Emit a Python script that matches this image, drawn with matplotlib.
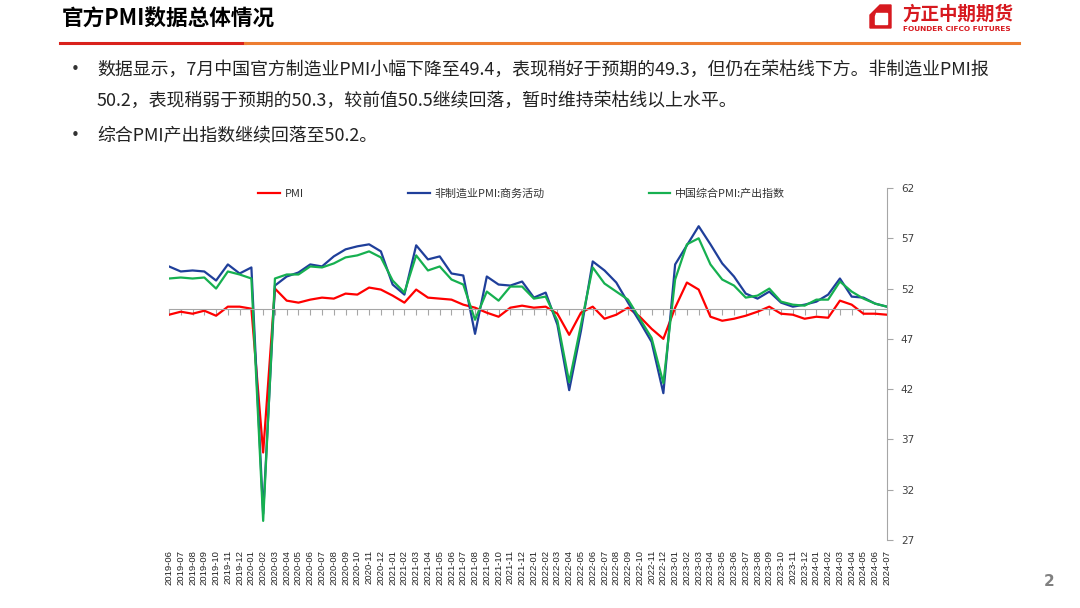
import matplotlib
matplotlib.use("Agg")
import matplotlib.pyplot as plt
from matplotlib.patches import Polygon
from matplotlib.lines import Line2D
import numpy as np

months = []
for y in range(2019, 2025):
    for m in range(1, 13):
        s = "%d-%02d" % (y, m)
        if "2019-06" <= s <= "2024-07":
            months.append(s)

pmi = [49.4, 49.7, 49.5, 49.8, 49.3, 50.2, 50.2,
       50.0, 35.7, 52.0, 50.8, 50.6, 50.9, 51.1, 51.0, 51.5, 51.4, 52.1, 51.9,
       51.3, 50.6, 51.9, 51.1, 51.0, 50.9, 50.4, 50.1, 49.6, 49.2, 50.1, 50.3,
       50.1, 50.2, 49.5, 47.4, 49.6, 50.2, 49.0, 49.4, 50.1, 49.2, 48.0, 47.0,
       50.1, 52.6, 51.9, 49.2, 48.8, 49.0, 49.3, 49.7, 50.2, 49.5, 49.4, 49.0,
       49.2, 49.1, 50.8, 50.4, 49.5, 49.5, 49.4]
non_mfg = [54.2, 53.7, 53.8, 53.7, 52.8, 54.4, 53.5,
           54.1, 29.6, 52.3, 53.2, 53.6, 54.4, 54.2, 55.2, 55.9, 56.2, 56.4, 55.7,
           52.4, 51.4, 56.3, 54.9, 55.2, 53.5, 53.3, 47.5, 53.2, 52.4, 52.3, 52.7,
           51.1, 51.6, 48.4, 41.9, 47.8, 54.7, 53.8, 52.6, 50.6, 48.7, 46.7, 41.6,
           54.4, 56.3, 58.2, 56.4, 54.5, 53.2, 51.5, 51.0, 51.7, 50.6, 50.2, 50.4,
           50.7, 51.4, 53.0, 51.2, 51.1, 50.5, 50.2]
composite = [53.0, 53.1, 53.0, 53.1, 52.0, 53.7, 53.4,
             53.0, 28.9, 53.0, 53.4, 53.4, 54.2, 54.1, 54.5, 55.1, 55.3, 55.7, 55.1,
             52.8, 51.6, 55.3, 53.8, 54.2, 52.9, 52.4, 48.9, 51.7, 50.8, 52.2, 52.2,
             51.0, 51.2, 48.8, 42.7, 48.4, 54.1, 52.5, 51.7, 50.9, 49.0, 47.1, 42.6,
             52.9, 56.4, 57.0, 54.4, 52.9, 52.3, 51.1, 51.3, 52.0, 50.7, 50.4, 50.3,
             50.9, 50.9, 52.7, 51.7, 51.0, 50.5, 50.2]
y_ticks = [27, 32, 37, 42, 47, 52, 57, 62]

cjk = ["Noto Sans CJK SC", "DejaVu Sans"]
W, H = 1080, 608
fig = plt.figure(figsize=(10.8, 6.08), dpi=100)

def fx(px):
    return px / W

def fy(py):
    return 1 - py / H

# header
fig.text(fx(62), fy(19), "官方PMI数据总体情况", family=cjk, fontsize=15.6,
         fontweight="bold", va="center", ha="left", color="#000000")
fig.add_artist(Line2D([fx(60), fx(245)], [fy(43), fy(43)], color="#D9221C", lw=2.2))
fig.add_artist(Line2D([fx(245), fx(1019)], [fy(43), fy(43)], color="#ED7D31", lw=2.2))

# logo
red = "#D7191F"
outer = [(873, 12), (880, 5), (891, 5), (891, 28), (870, 28), (870, 15)]
inner = [(876, 13), (887, 13), (887, 24), (875, 24), (875, 16)]
fig.add_artist(Polygon([(fx(a), fy(b)) for a, b in outer], closed=True,
                       color=red, transform=fig.transFigure))
fig.add_artist(Polygon([(fx(a), fy(b)) for a, b in inner], closed=True,
                       color="white", transform=fig.transFigure))
fig.text(fx(902), fy(14), "方正中期期货", family=cjk, fontsize=13.3,
         fontweight="bold", color=red, va="center", ha="left")
fig.text(fx(903), fy(29), "FOUNDER CIFCO FUTURES", family="DejaVu Sans",
         fontsize=5.3, fontweight="bold", color=red, va="center", ha="left")

# bullets
bullets = [
    (70, "数据显示，7月中国官方制造业PMI小幅下降至49.4，表现稍好于预期的49.3，但仍在荣枯线下方。非制造业PMI报", True),
    (101, "50.2，表现稍弱于预期的50.3，较前值50.5继续回落，暂时维持荣枯线以上水平。", False),
    (136, "综合PMI产出指数继续回落至50.2。", True),
]
for yy, txt, dot in bullets:
    if dot:
        fig.text(fx(75), fy(yy), "•", family="DejaVu Sans", fontsize=11,
                 va="center", ha="center", color="#333333")
    fig.text(fx(97), fy(yy), txt, family=cjk, fontsize=12.9, va="center",
             ha="left", color="#222222")

fig.text(fx(1049), fy(581), "2", family="DejaVu Sans", fontsize=11,
         fontweight="bold", color="#808080", ha="center", va="center")

# chart
ax = fig.add_axes([fx(169), fy(540), fx(887) - fx(169), fy(188) - fy(540)])
x = np.arange(len(months))
ax.plot(x, pmi, color="#FF0000", lw=1.6, label="PMI")
ax.plot(x, non_mfg, color="#1F3F9A", lw=1.6, label="非制造业PMI:商务活动")
ax.plot(x, composite, color="#16B050", lw=1.6, label="中国综合PMI:产出指数")
ax.set_xlim(0, len(months) - 1)
ax.set_ylim(27, 62)

for s in ["top", "left"]:
    ax.spines[s].set_visible(False)
ax.spines["right"].set_color("#A6A6A6")
ax.spines["bottom"].set_color("#A6A6A6")
ax.spines["bottom"].set_position(("data", 50))
ax.yaxis.tick_right()
ax.set_yticks(y_ticks)
ax.tick_params(axis="y", direction="out", length=4, color="#A6A6A6",
               labelsize=7.5, labelcolor="#404040", pad=6)
for lb in ax.get_yticklabels():
    lb.set_family("DejaVu Sans")
ax.set_xticks(x)
ax.set_xticklabels([])
ax.tick_params(axis="x", direction="out", length=4, color="#A6A6A6")

sec = ax.secondary_xaxis(0)
sec.set_xticks(x)
sec.set_xticklabels(months, rotation=90, fontsize=6.8, family="Liberation Sans",
                    color="#222222")
sec.tick_params(length=0, pad=7)
sec.spines["bottom"].set_visible(False)

leg = ax.legend(loc="center", bbox_to_anchor=(0.491, 0.983), ncol=3, frameon=False,
                prop={"family": cjk, "size": 7.9}, handlelength=2.0,
                handletextpad=0.4, columnspacing=9.5)
for t in leg.get_texts():
    t.set_color("#333333")

fig.savefig("out.png", dpi=100)
